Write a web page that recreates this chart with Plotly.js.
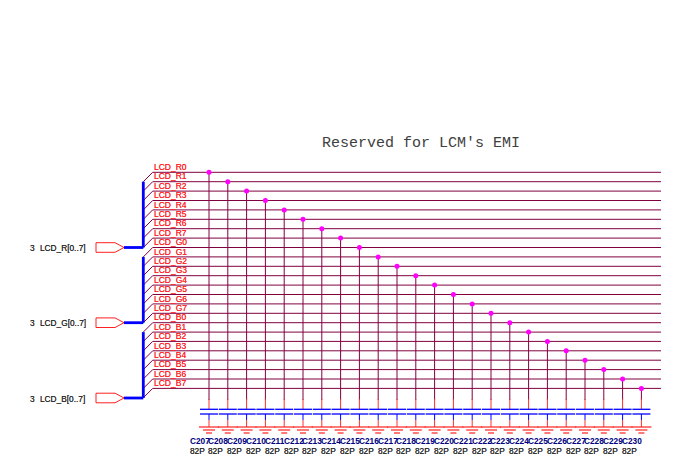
<!DOCTYPE html>
<html><head><meta charset="utf-8">
<script src="https://cdn.plot.ly/plotly-3.0.1.min.js"></script>
<style>html,body{margin:0;padding:0;background:#fff}#c{width:674px;height:461px}</style>
</head><body><div id="c"></div>
<script>
const netNames=["LCD_R0","LCD_R1","LCD_R2","LCD_R3","LCD_R4","LCD_R5","LCD_R6","LCD_R7","LCD_G0","LCD_G1","LCD_G2","LCD_G3","LCD_G4","LCD_G5","LCD_G6","LCD_G7","LCD_B0","LCD_B1","LCD_B2","LCD_B3","LCD_B4","LCD_B5","LCD_B6","LCD_B7"];
const netY=[172.3,181.7,191.1,200.5,209.9,219.3,228.7,238.1,247.5,256.9,266.3,275.7,285.1,294.5,303.9,313.3,322.7,332.1,341.4,350.8,360.2,369.6,379,388.4];
const capNames=["C207","C208","C209","C210","C211","C212","C213","C214","C215","C216","C217","C218","C219","C220","C221","C222","C223","C224","C225","C226","C227","C228","C229","C230"];
const capValues=["82P","82P","82P","82P","82P","82P","82P","82P","82P","82P","82P","82P","82P","82P","82P","82P","82P","82P","82P","82P","82P","82P","82P","82P"];
const capX=[209,227.8,246.6,265.4,284.2,303,321.8,340.6,359.4,378.2,397,415.8,434.6,453.4,472.2,491,509.8,528.6,547.4,566.2,585,603.8,622.6,641.4];
const portNames=["LCD_R[0..7]","LCD_G[0..7]","LCD_B[0..7]"];
const portSheet=["3","3","3"];
const portY=[247.5,322.7,398];
const busTop=[181.7,256.9,332.1];
const titleText="Reserved for LCM's EMI";

function seg(list){const x=[],y=[];list.forEach(s=>{x.push(s[0],s[2],null);y.push(s[1],s[3],null);});return {x,y};}
function line(list,color,width){const s=seg(list);return {type:'scatter',mode:'lines',x:s.x,y:s.y,line:{color,width},hoverinfo:'skip',showlegend:false};}

const netRuns=netY.map(y=>[152.7,y,661,y]);
const entries=netY.map(y=>[143.3,y+9.4,152.7,y]);
const drops=capX.map((x,i)=>[x,netY[i],x,400]);
const redTop=capX.map(x=>[x,399,x,409]);
const plates=capX.flatMap(x=>[[x-9,409.3,x+9,409.3],[x-9,414,x+9,414]]);
const blueStub=capX.map(x=>[x,414,x,420]);
const redLow=capX.map(x=>[x,420,x,427]);
const ground=capX.flatMap(x=>[[x-10,427,x+10,427],[x-6,430,x+6,430],[x-3,433,x+3,433]]);
const buses=portY.flatMap((y,i)=>[[143.3,busTop[i],143.3,y],[124,y,143.3,y]]);
const ports=portY.map(y=>({type:'scatter',mode:'lines',x:[96,115,124,115,96,96],y:[y-4.8,y-4.8,y,y+4.8,y+4.8,y-4.8],line:{color:'#ff2020',width:1},hoverinfo:'skip',showlegend:false}));

const traces=[
 line(netRuns,'#800040',1),
 line(entries,'#800040',1),
 line(drops,'#800040',1),
 line(redTop,'#ff3030',1),
 line(redLow,'#ff3030',1),
 line(blueStub,'#0000ff',1),
 line(plates,'#0000ff',1.3),
 line(ground,'#ff2020',1.2),
 line(buses,'#0000ff',2.8),
 ...ports,
 {type:'scatter',mode:'markers',x:capX,y:netY,marker:{color:'#ff00ff',size:5},hoverinfo:'skip',showlegend:false}
];

function note(x,y,text,size,color,opts){opts=opts||{};return {x,y,text,xref:'x',yref:'y',showarrow:false,xanchor:'left',yanchor:'middle',font:{size,color,family:opts.family||'Liberation Sans, Arial, sans-serif',weight:opts.weight||400,shadow:opts.shadow||'none'},borderpad:0,borderwidth:0};}
const ann=[];
netNames.forEach((n,i)=>ann.push(note(153.5,netY[i]-5.3,n,8.5,'#ff2828',{shadow:'0 0 0.3px #ff2828'})));
capNames.forEach((n,i)=>ann.push(note(capX[i]-19.5,441,n,8.3,'#000080',{weight:700})));
capValues.forEach((n,i)=>ann.push(note(capX[i]-19.5,450.5,n,8.3,'#303030',{shadow:'0 0 0.3px #303030'})));
portNames.forEach((n,i)=>{ann.push(note(30,portY[i]+0.5,portSheet[i],8.3,'#303030',{shadow:'0 0 0.3px #303030'}));ann.push(note(40,portY[i]+0.5,n,8.3,'#303030',{shadow:'0 0 0.3px #303030'}));});
ann.push(note(321.5,143.5,titleText,15,'#404040',{family:'Liberation Mono, Courier New, monospace'}));

const layout={width:674,height:461,margin:{l:0,r:0,t:0,b:0,pad:0},paper_bgcolor:'#fff',plot_bgcolor:'#fff',showlegend:false,
 xaxis:{range:[0,674],visible:false,fixedrange:true},
 yaxis:{range:[461,0],visible:false,fixedrange:true},
 annotations:ann};
Plotly.newPlot('c',traces,layout,{displayModeBar:false,staticPlot:true});
</script></body></html>
